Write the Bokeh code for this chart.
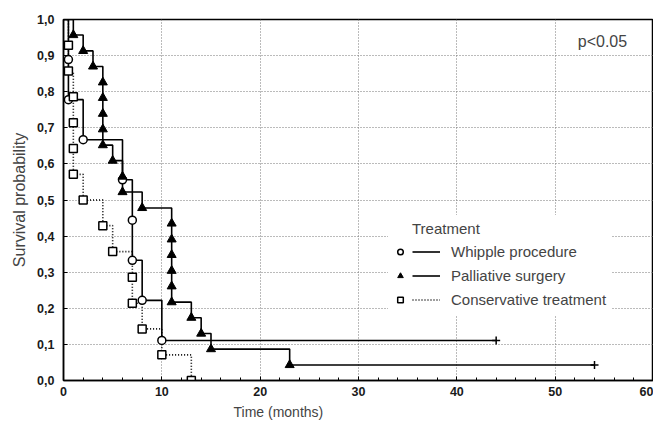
from bokeh.plotting import figure
from bokeh.embed import file_html
from bokeh.resources import INLINE
from bokeh.models import (Range1d, FixedTicker, CustomJSTickFormatter, Legend, LegendItem,
                          Label, Title)

# ---- data ----
whip_time = [0.5, 0.5, 2, 6, 7, 7, 8, 10]
whip_surv = [0.889, 0.778, 0.667, 0.556, 0.444, 0.333, 0.222, 0.111]
whip_censor_time = [44]

pall_time = [1, 2, 3, 4, 4, 4, 4, 4, 5, 6, 6, 8, 11, 11, 11, 11, 11, 11, 13, 14, 15, 23]
pall_surv = [0.957, 0.913, 0.870, 0.826, 0.783, 0.739, 0.696, 0.652, 0.609, 0.565, 0.522,
             0.478, 0.435, 0.391, 0.348, 0.304, 0.261, 0.217, 0.174, 0.130, 0.087, 0.043]
pall_censor_time = [54]

cons_time = [0.5, 0.5, 1, 1, 1, 1, 2, 4, 5, 7, 7, 8, 10, 13]
cons_surv = [0.929, 0.857, 0.786, 0.714, 0.643, 0.571, 0.5, 0.429, 0.357, 0.286, 0.214,
             0.143, 0.071, 0.0]

x_ticks = [0, 10, 20, 30, 40, 50, 60]
y_ticks = [0.0, 0.1, 0.2, 0.3, 0.4, 0.5, 0.6, 0.7, 0.8, 0.9, 1.0]
series_names = ["Whipple procedure", "Palliative surgery", "Conservative treatment"]

FONT = "Liberation Sans"

p = figure(width=653, height=423, output_backend="svg", toolbar_location=None,
           x_range=Range1d(0, 60), y_range=Range1d(0, 1),
           min_border_left=63, min_border_right=0, min_border_top=19, min_border_bottom=37)

p.outline_line_color = "black"
p.outline_line_width = 1.5
p.background_fill_color = "white"

# axes
p.xaxis.ticker = FixedTicker(ticks=x_ticks, minor_ticks=list(range(0, 61, 2)))
p.yaxis.ticker = FixedTicker(ticks=y_ticks, minor_ticks=[])
p.yaxis.formatter = CustomJSTickFormatter(code="return tick.toFixed(1).replace('.', ',');")
for ax in (p.xaxis[0], p.yaxis[0]):
    ax.axis_line_color = "black"
    ax.axis_line_width = 1.5
    ax.major_tick_out = 0
    ax.major_tick_in = 4
    ax.minor_tick_out = 0
    ax.minor_tick_in = 3
    ax.major_tick_line_color = "black"
    ax.minor_tick_line_color = "black"
    ax.major_label_text_font = FONT
    ax.major_label_text_font_size = "12.5px"
    ax.major_label_text_font_style = "bold"
    ax.major_label_text_color = "#1a1a1a"
p.xaxis.major_label_standoff = 6
p.yaxis.major_label_standoff = 9
p.yaxis.axis_label = "Survival probability"
p.yaxis.axis_label_text_font = FONT
p.yaxis.axis_label_text_font_size = "16px"
p.yaxis.axis_label_text_font_style = "normal"
p.yaxis.axis_label_standoff = 6

p.add_layout(Title(text="Time (months)", align="left", offset=170,
                   text_font=FONT, text_font_size="14px", text_font_style="normal",
                   standoff=7), "below")

# grid
p.xgrid.ticker = FixedTicker(ticks=x_ticks)
p.ygrid.ticker = FixedTicker(ticks=y_ticks)
for g in (p.xgrid[0], p.ygrid[0]):
    g.grid_line_color = "#777777"
    g.grid_line_dash = "1 2"
    g.grid_line_width = 1


def step_xy(times, surv, censor):
    xs = [0] + list(times) + list(censor)
    ys = [1.0] + list(surv) + ([surv[-1]] * len(censor))
    return xs, ys


wx, wy = step_xy(whip_time, whip_surv, whip_censor_time)
px_, py_ = step_xy(pall_time, pall_surv, pall_censor_time)
cx, cy = step_xy(cons_time, cons_surv, [])

l_whip = p.step(wx, wy, mode="after", line_color="black", line_width=1.6)
l_pall = p.step(px_, py_, mode="after", line_color="black", line_width=1.6)
l_cons = p.step(cx, cy, mode="after", line_color="black", line_width=1.6, line_dash="1 2")

m_whip = p.scatter(whip_time, whip_surv, marker="circle", size=8, fill_color="white",
                   line_color="black", line_width=1.5)
m_pall = p.scatter(pall_time, pall_surv, marker="triangle", size=9, fill_color="black",
                   line_color="black")
m_cons = p.scatter(cons_time, cons_surv, marker="square", size=8, fill_color="white",
                   line_color="black", line_width=1.5)

p.scatter(whip_censor_time, [whip_surv[-1]], marker="cross", size=8, line_color="black",
          line_width=1.5)
p.scatter(pall_censor_time, [pall_surv[-1]], marker="cross", size=8, line_color="black",
          line_width=1.5)

# legend: markers column
leg_a = Legend(items=[LegendItem(label=" ", renderers=[m_whip]),
                      LegendItem(label=" ", renderers=[m_pall]),
                      LegendItem(label=" ", renderers=[m_cons])],
               location=(325, 65), padding=5, margin=0, glyph_width=14, glyph_height=21,
               label_height=21, label_width=0, label_standoff=0, spacing=3,
               border_line_alpha=0, background_fill_color="white", background_fill_alpha=1,
               label_text_font_size="1px")
p.add_layout(leg_a)

leg_b = Legend(items=[LegendItem(label=series_names[0], renderers=[l_whip]),
                      LegendItem(label=series_names[1], renderers=[l_pall]),
                      LegendItem(label=series_names[2], renderers=[l_cons])],
               location=(344, 65), padding=5, margin=0, glyph_width=28, glyph_height=21,
               label_height=21, label_standoff=11, spacing=3,
               title="Treatment", title_text_font=FONT, title_text_font_size="15px",
               title_text_font_style="normal", title_standoff=4,
               label_text_font=FONT, label_text_font_size="15px",
               border_line_alpha=0, background_fill_color="white", background_fill_alpha=1)
p.add_layout(leg_b)

p.add_layout(Label(x=52.3, y=0.94, text="p<0.05", text_font=FONT, text_font_size="16px",
                   text_baseline="middle", text_align="left"))

open("out.html", "w").write(file_html(p, INLINE))
